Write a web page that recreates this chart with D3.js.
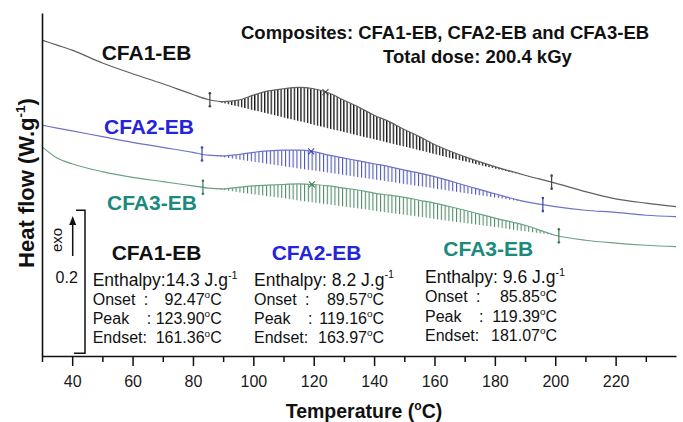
<!doctype html>
<html>
<head>
<meta charset="utf-8">
<title>DSC curves - CFA-EB composites</title>
<script src="https://cdnjs.cloudflare.com/ajax/libs/d3/7.8.5/d3.min.js"></script>
<style>
  body { margin: 0; background: #fff; }
  svg { display: block; font-family: "Liberation Sans", Arial, sans-serif; }
</style>
</head>
<body>
<div id="chart"></div>
<script>
// temperatures (°C) where the curves were read
const temps = [30, 35, 40, 50, 60, 70, 80, 85, 90, 95, 100, 105, 110, 115, 120, 125, 130, 135, 140, 145, 150, 155, 160, 170, 180, 190, 200, 210, 220, 230, 240];
// heat flow (W/g, offset curves)
const cfa1 = [0.442, 0.435, 0.428, 0.410, 0.395, 0.381, 0.366, 0.359, 0.356, 0.358, 0.365, 0.371, 0.374, 0.376, 0.374, 0.368, 0.358, 0.348, 0.337, 0.328, 0.317, 0.307, 0.296, 0.279, 0.265, 0.253, 0.242, 0.230, 0.220, 0.214, 0.209];
const cfa2 = [0.323, 0.319, 0.315, 0.307, 0.299, 0.292, 0.285, 0.281, 0.280, 0.282, 0.285, 0.287, 0.288, 0.288, 0.286, 0.281, 0.277, 0.273, 0.269, 0.265, 0.260, 0.256, 0.251, 0.239, 0.227, 0.216, 0.209, 0.204, 0.201, 0.197, 0.195];
const cfa3 = [0.293, 0.277, 0.269, 0.258, 0.250, 0.244, 0.238, 0.235, 0.234, 0.236, 0.238, 0.239, 0.240, 0.241, 0.240, 0.238, 0.235, 0.232, 0.228, 0.225, 0.222, 0.218, 0.214, 0.204, 0.193, 0.183, 0.169, 0.162, 0.158, 0.155, 0.153];

const samples = ["CFA1-EB", "CFA2-EB", "CFA3-EB"];
const enthalpy = ["14.3", "8.2", "9.6"];
const onset = ["92.47", "89.57", "85.85"];
const peak = ["123.90", "119.16", "119.39"];
const endset = ["161.36", "163.97", "181.07"];
// integration limits marked on each curve
const limitStart = [85.6, 83.0, 83.3];
const limitEnd = [198.8, 195.9, 201.2];

const xTicks = [40, 60, 80, 100, 120, 140, 160, 180, 200, 220];
const xMinor = [30, 50, 70, 90, 110, 130, 150, 170, 190, 210, 230];
const scaleBarBase = 0.004, scaleBarSpan = 0.2;

const W = 683, H = 422;
const x = d3.scaleLinear().domain([30, 240]).range([42, 676]);
const y = d3.scaleLinear().domain([0, 0.48]).range([356, 13]);

const svg = d3.select('#chart').append('svg')
  .attr('width', W).attr('height', H);

const series = [
  { values: cfa1, line: '#606060', hatch: '#141414', mark: '#444', label: '#111', hw: 3.3, lw: 1.3 },
  { values: cfa2, line: '#6b73c6', hatch: '#4d58b8', mark: '#3a46a8', label: '#2424dc', hw: 3.8, lw: 1.1 },
  { values: cfa3, line: '#6aa383', hatch: '#4f8d66', mark: '#3d7d57', label: '#1b8a7c', hw: 3.8, lw: 1.1 }
];

function valueAt(vals, t) {
  let i = d3.bisectRight(temps, t) - 1;
  i = Math.max(0, Math.min(temps.length - 2, i));
  const f = (t - temps[i]) / (temps[i + 1] - temps[i]);
  return vals[i] + (vals[i + 1] - vals[i]) * f;
}

// hatch patterns
const defs = svg.append('defs');
series.forEach((s, i) => {
  const p = defs.append('pattern')
    .attr('id', 'hatch' + i)
    .attr('patternUnits', 'userSpaceOnUse')
    .attr('width', s.hw).attr('height', 10);
  p.append('rect')
    .attr('x', 0).attr('y', 0)
    .attr('width', s.lw).attr('height', 10)
    .attr('fill', s.hatch);
});

const line = d3.line()
  .x((d, i) => x(temps[i]))
  .y(d => y(d))
  .curve(d3.curveMonotoneX);

const area = d3.area()
  .x(d => x(d.t))
  .y0(d => y(d.b))
  .y1(d => y(d.v))
  .curve(d3.curveMonotoneX);

series.forEach((s, i) => {
  const t0 = limitStart[i], t1 = limitEnd[i];
  const v0 = valueAt(s.values, t0), v1 = valueAt(s.values, t1);
  const pts = [t0, ...temps.filter(t => t > t0 && t < t1), t1].map(t => ({
    t: t,
    v: valueAt(s.values, t),
    b: v0 + (v1 - v0) * (t - t0) / (t1 - t0)
  }));

  svg.append('path')
    .attr('d', area(pts))
    .attr('fill', `url(#hatch${i})`);

  svg.append('path')
    .attr('d', line(s.values))
    .attr('fill', 'none')
    .attr('stroke', s.line)
    .attr('stroke-width', 1.2);

  // integration limit markers
  [t0, t1].forEach(t => {
    const g = svg.append('g')
      .attr('transform', `translate(${x(t)},${y(valueAt(s.values, t))})`);
    g.append('path')
      .attr('d', 'M0,-7V7')
      .attr('stroke', s.mark).attr('stroke-width', 1.2);
    g.selectAll('circle').data([-6.5, 6.5]).join('circle')
      .attr('cy', d => d).attr('r', 1.3).attr('fill', s.mark);
  });

  // peak cross
  const tp = +peak[i];
  svg.append('path')
    .attr('transform', `translate(${x(tp)},${y(valueAt(s.values, tp))})`)
    .attr('d', 'M-3,-3L3,3M-3,3L3,-3')
    .attr('stroke', s.mark).attr('stroke-width', 1.1)
    .attr('fill', 'none');
});

// axes
const xAxis = svg.append('g')
  .attr('transform', `translate(0,${y(0)})`)
  .call(d3.axisBottom(x).tickValues(xTicks).tickSize(10).tickPadding(10)
    .tickSizeOuter(0).tickFormat(d3.format('d')));
xAxis.select('.domain').attr('stroke-width', 1.6).attr('stroke', '#111');
xAxis.selectAll('.tick line').attr('stroke-width', 1.5).attr('stroke', '#111');
xAxis.selectAll('.tick text')
  .attr('font-size', 16).attr('font-family', '"Liberation Sans", Arial, sans-serif')
  .attr('fill', '#1a1a1a');

const xMinorAxis = svg.append('g')
  .attr('transform', `translate(0,${y(0)})`)
  .call(d3.axisBottom(x).tickValues(xMinor).tickSize(6).tickFormat(''));
xMinorAxis.select('.domain').remove();
xMinorAxis.selectAll('.tick line').attr('stroke-width', 1.5).attr('stroke', '#111');

const yAxis = svg.append('g')
  .attr('transform', `translate(${x(30)},0)`)
  .call(d3.axisLeft(y).tickValues([]).tickSizeOuter(0));
yAxis.select('.domain').attr('stroke-width', 1.6).attr('stroke', '#111');

// helper: text with superscript piece
function addSup(sel, s, size) {
  sel.append('tspan').attr('dy', -size * 0.42).attr('font-size', size * 0.62).text(s);
  return sel.append('tspan').attr('dy', size * 0.42);
}

// axis titles
const xt = svg.append('text')
  .attr('x', 364).attr('y', 418)
  .attr('text-anchor', 'middle')
  .attr('font-size', 19.5).attr('font-weight', 'bold').attr('fill', '#111')
  .text('Temperature (');
addSup(xt, 'o', 19.5).text('C)');

const yt = svg.append('text')
  .attr('transform', 'translate(34,183) rotate(-90)')
  .attr('text-anchor', 'middle')
  .attr('font-size', 22).attr('font-weight', 'bold').attr('fill', '#111')
  .text('Heat flow (W.g');
addSup(yt, '-1', 22).text(')');

// title
svg.append('text')
  .attr('x', 241).attr('y', 38.5)
  .attr('font-size', 18.5).attr('font-weight', 'bold').attr('fill', '#111')
  .text('Composites: ' + samples.slice(0, 2).join(', ') + ' and ' + samples[2]);
svg.append('text')
  .attr('x', 383).attr('y', 63)
  .attr('font-size', 18.5).attr('font-weight', 'bold').attr('fill', '#111')
  .text('Total dose: 200.4 kGy');

// curve labels
const curveLabelPos = [[101.7, 60], [104, 133.5], [107, 209.5]];
samples.forEach((name, i) => {
  svg.append('text')
    .attr('x', curveLabelPos[i][0]).attr('y', curveLabelPos[i][1])
    .attr('font-size', 21).attr('font-weight', 'bold')
    .attr('fill', series[i].label)
    .text(name);
});

// scale bar
svg.append('path')
  .attr('d', `M76,${y(scaleBarBase + scaleBarSpan)}H85V${y(scaleBarBase)}H74`)
  .attr('fill', 'none').attr('stroke', '#111').attr('stroke-width', 1.5);
svg.append('line')
  .attr('x1', 72.7).attr('x2', 72.7).attr('y1', 256).attr('y2', 223)
  .attr('stroke', '#111').attr('stroke-width', 1.5);
svg.append('path')
  .attr('d', 'M72.7,216L69.2,225H76.2Z').attr('fill', '#111');
svg.append('text')
  .attr('transform', 'translate(62,240) rotate(-90)')
  .attr('text-anchor', 'middle')
  .attr('font-size', 15).attr('fill', '#111')
  .text('exo');
svg.append('text')
  .attr('x', 66.7).attr('y', 283).attr('text-anchor', 'middle')
  .attr('font-size', 16).attr('fill', '#111')
  .text('0.2');

// result blocks
const blockX = [92.7, 254, 425];
const blockRight = [221.7, 384, 557];
const blockTop = [286, 285.5, 283.3];
const headPos = [[111.7, 260], [271.7, 260], [443.3, 256]];
const rowGap = 19.1;

samples.forEach((name, i) => {
  svg.append('text')
    .attr('x', headPos[i][0]).attr('y', headPos[i][1])
    .attr('font-size', 21).attr('font-weight', 'bold')
    .attr('fill', series[i].label)
    .text(name);

  const x0 = blockX[i], xr = blockRight[i], y0 = blockTop[i];
  const en = svg.append('text')
    .attr('x', x0).attr('y', y0)
    .attr('font-size', 17.5).attr('fill', '#111')
    .text('Enthalpy:' + (i ? ' ' : '') + enthalpy[i] + ' J.g');
  addSup(en, '-1', 17.5);

  const rows = [['Onset', ':', onset[i], 51], ['Peak', ':', peak[i], 54], ['Endset:', '', endset[i], 0]];
  rows.forEach((r, k) => {
    const yy = y0 + rowGap * (k + 1);
    svg.append('text')
      .attr('x', x0).attr('y', yy)
      .attr('font-size', 16).attr('fill', '#111')
      .text(r[0]);
    if (r[1]) {
      svg.append('text')
        .attr('x', x0 + r[3]).attr('y', yy)
        .attr('font-size', 16).attr('fill', '#111')
        .text(r[1]);
    }
    const v = svg.append('text')
      .attr('x', xr).attr('y', yy)
      .attr('text-anchor', 'end')
      .attr('font-size', 16).attr('fill', '#111')
      .text(r[2]);
    addSup(v, 'o', 16).text('C');
  });
});
</script>
</body>
</html>
